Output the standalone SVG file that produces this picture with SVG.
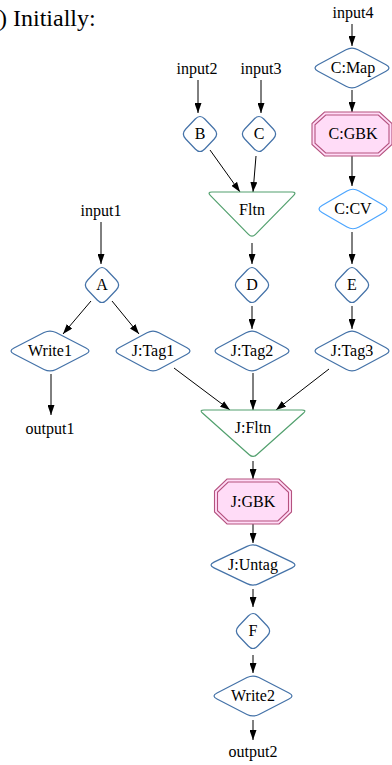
<svg xmlns="http://www.w3.org/2000/svg" width="392" height="765" viewBox="0 0 392 765" font-family="'Liberation Serif', 'DejaVu Serif', serif">
<style>
text{font-family:"Liberation Serif","DejaVu Serif",serif;font-size:16px;fill:#000;text-anchor:middle}
.title{font-size:24px;text-anchor:start}
.op{fill:#fff;stroke:#4472a8;stroke-width:1.2}
.cv{fill:#fff;stroke:#4da6ff;stroke-width:1.2}
.fl{fill:#fff;stroke:#52a06e;stroke-width:1.2}
.gb{fill:#ffdcf7;stroke:#b5527f;stroke-width:1.1}
.gbi{fill:none;stroke:#b5527f;stroke-width:1.1}
#edges line{stroke:#000;stroke-width:1;marker-end:url(#arr)}
</style>
<defs>
<marker id="arr" viewBox="0 0 10 7" refX="10" refY="3.5" markerWidth="10" markerHeight="7" orient="auto" markerUnits="userSpaceOnUse"><path d="M0,0 L10,3.5 L0,7z" fill="#000"/></marker>
<path id="dsm" d="M4.75,-15 L14.25,-5 Q19,0 14.25,5 L4.75,15 Q0,20 -4.75,15 L-14.25,5 Q-19,0 -14.25,-5 L-4.75,-15 Q0,-20 4.75,-15Z"/>
<path id="d40" d="M6,-18.275 L34,-3.225 Q40,0 34,3.225 L6,18.275 Q0,21.5 -6,18.275 L-34,3.225 Q-40,0 -34,-3.225 L-6,-18.275 Q0,-21.5 6,-18.275Z"/>
<path id="d37" d="M6,-18.01 L31,-3.49 Q37,0 31,3.49 L6,18.01 Q0,21.5 -6,18.01 L-31,3.49 Q-37,0 -31,-3.49 L-6,-18.01 Q0,-21.5 6,-18.01Z"/>
<path id="d42" d="M6,-18.43 L36,-3.07 Q42,0 36,3.07 L6,18.43 Q0,21.5 -6,18.43 L-36,3.07 Q-42,0 -36,-3.07 L-6,-18.43 Q0,-21.5 6,-18.43Z"/>
<path id="d45" d="M6,-18.63 L39,-2.87 Q45,0 39,2.87 L6,18.63 Q0,21.5 -6,18.63 L-39,2.87 Q-45,0 -39,-2.87 L-6,-18.63 Q0,-21.5 6,-18.63Z"/>
</defs>
<rect width="392" height="765" fill="#fff"/>
<text class="title" x="-1" y="26">) Initially:</text>

<g id="edges">
<line x1="352" y1="24" x2="352" y2="46"/>
<line x1="352" y1="90" x2="352" y2="112"/>
<line x1="352" y1="156" x2="352" y2="186"/>
<line x1="352" y1="232" x2="352" y2="264"/>
<line x1="352" y1="306" x2="352" y2="329"/>
<line x1="198" y1="80" x2="198" y2="113"/>
<line x1="261" y1="80" x2="261" y2="113"/>
<line x1="210" y1="150" x2="240" y2="192"/>
<line x1="256" y1="156" x2="253" y2="192"/>
<line x1="252" y1="243" x2="252" y2="264"/>
<line x1="252" y1="306" x2="252" y2="329"/>
<line x1="101" y1="222" x2="101" y2="264"/>
<line x1="91" y1="301" x2="63" y2="334"/>
<line x1="112" y1="301" x2="139" y2="334"/>
<line x1="51" y1="374" x2="51" y2="415"/>
<line x1="174" y1="368" x2="230" y2="410"/>
<line x1="253" y1="373" x2="253" y2="410"/>
<line x1="329" y1="369" x2="276" y2="410"/>
<line x1="253" y1="461" x2="253" y2="479"/>
<line x1="253" y1="524" x2="253" y2="543"/>
<line x1="253" y1="589" x2="253" y2="607"/>
<line x1="253" y1="655" x2="253" y2="673"/>
<line x1="253" y1="720" x2="253" y2="740"/>
</g>

<g id="input4"><text x="353" y="18">input4</text></g>
<g id="input2"><text x="197" y="74">input2</text></g>
<g id="input3"><text x="261" y="74">input3</text></g>
<g id="input1"><text x="101" y="216">input1</text></g>
<g id="output1"><text x="50" y="434">output1</text></g>
<g id="output2"><text x="253" y="757">output2</text></g>

<g id="CMap"><use href="#d40" class="op" x="352" y="68"/><text x="353" y="73">C:Map</text></g>
<g id="CGBK">
<polygon class="gb" points="324.5,112 379.5,112 392,123.5 392,144.5 379.5,156 324.5,156 312,144.5 312,123.5"/>
<polygon class="gbi" points="325.7,115 378.3,115 389,124.8 389,143.2 378.3,153 325.7,153 315,143.2 315,124.8"/>
<text x="353" y="139">C:GBK</text></g>
<g id="CCV"><use href="#d37" class="cv" x="353" y="209"/><text x="353" y="214">C:CV</text></g>
<g id="B"><use href="#dsm" class="op" x="200" y="134"/><text x="200" y="139">B</text></g>
<g id="C"><use href="#dsm" class="op" x="259" y="134"/><text x="259" y="139">C</text></g>
<g id="Fltn"><path class="fl" transform="translate(252,192)" d="M-40,0 L40,0 Q45,0 41.5,3.6 L3.5,42.4 Q0,46 -3.5,42.4 L-41.5,3.6 Q-45,0 -40,0Z"/><text x="252" y="215">Fltn</text></g>
<g id="A"><use href="#dsm" class="op" x="102" y="285"/><text x="102" y="290">A</text></g>
<g id="D"><use href="#dsm" class="op" x="252" y="285"/><text x="252" y="290">D</text></g>
<g id="E"><use href="#dsm" class="op" x="352" y="285"/><text x="352" y="290">E</text></g>
<g id="Write1"><use href="#d42" class="op" x="50" y="351"/><text x="50" y="356">Write1</text></g>
<g id="JTag1"><use href="#d40" class="op" x="153" y="351"/><text x="153" y="356">J:Tag1</text></g>
<g id="JTag2"><use href="#d40" class="op" x="252" y="351"/><text x="252" y="356">J:Tag2</text></g>
<g id="JTag3"><use href="#d40" class="op" x="352" y="351"/><text x="352" y="356">J:Tag3</text></g>
<g id="JFltn"><path class="fl" transform="translate(253,410)" d="M-49,0 L49,0 Q54,0 50.26,3.32 L3.74,44.68 Q0,48 -3.74,44.68 L-50.26,3.32 Q-54,0 -49,0Z"/><text x="253" y="433">J:Fltn</text></g>
<g id="JGBK">
<polygon class="gb" points="227,479 279,479 291.5,491 291.5,512 279,524 227,524 214.5,512 214.5,491"/>
<polygon class="gbi" points="228.2,482 277.8,482 288.5,492.3 288.5,510.7 277.8,521 228.2,521 217.5,510.7 217.5,492.3"/>
<text x="253" y="507">J:GBK</text></g>
<g id="JUntag"><use href="#d45" class="op" x="253" y="565"/><text x="253" y="570">J:Untag</text></g>
<g id="F"><use href="#dsm" class="op" x="253" y="631"/><text x="253" y="636">F</text></g>
<g id="Write2"><use href="#d42" class="op" x="253" y="696"/><text x="253" y="701">Write2</text></g>
</svg>
